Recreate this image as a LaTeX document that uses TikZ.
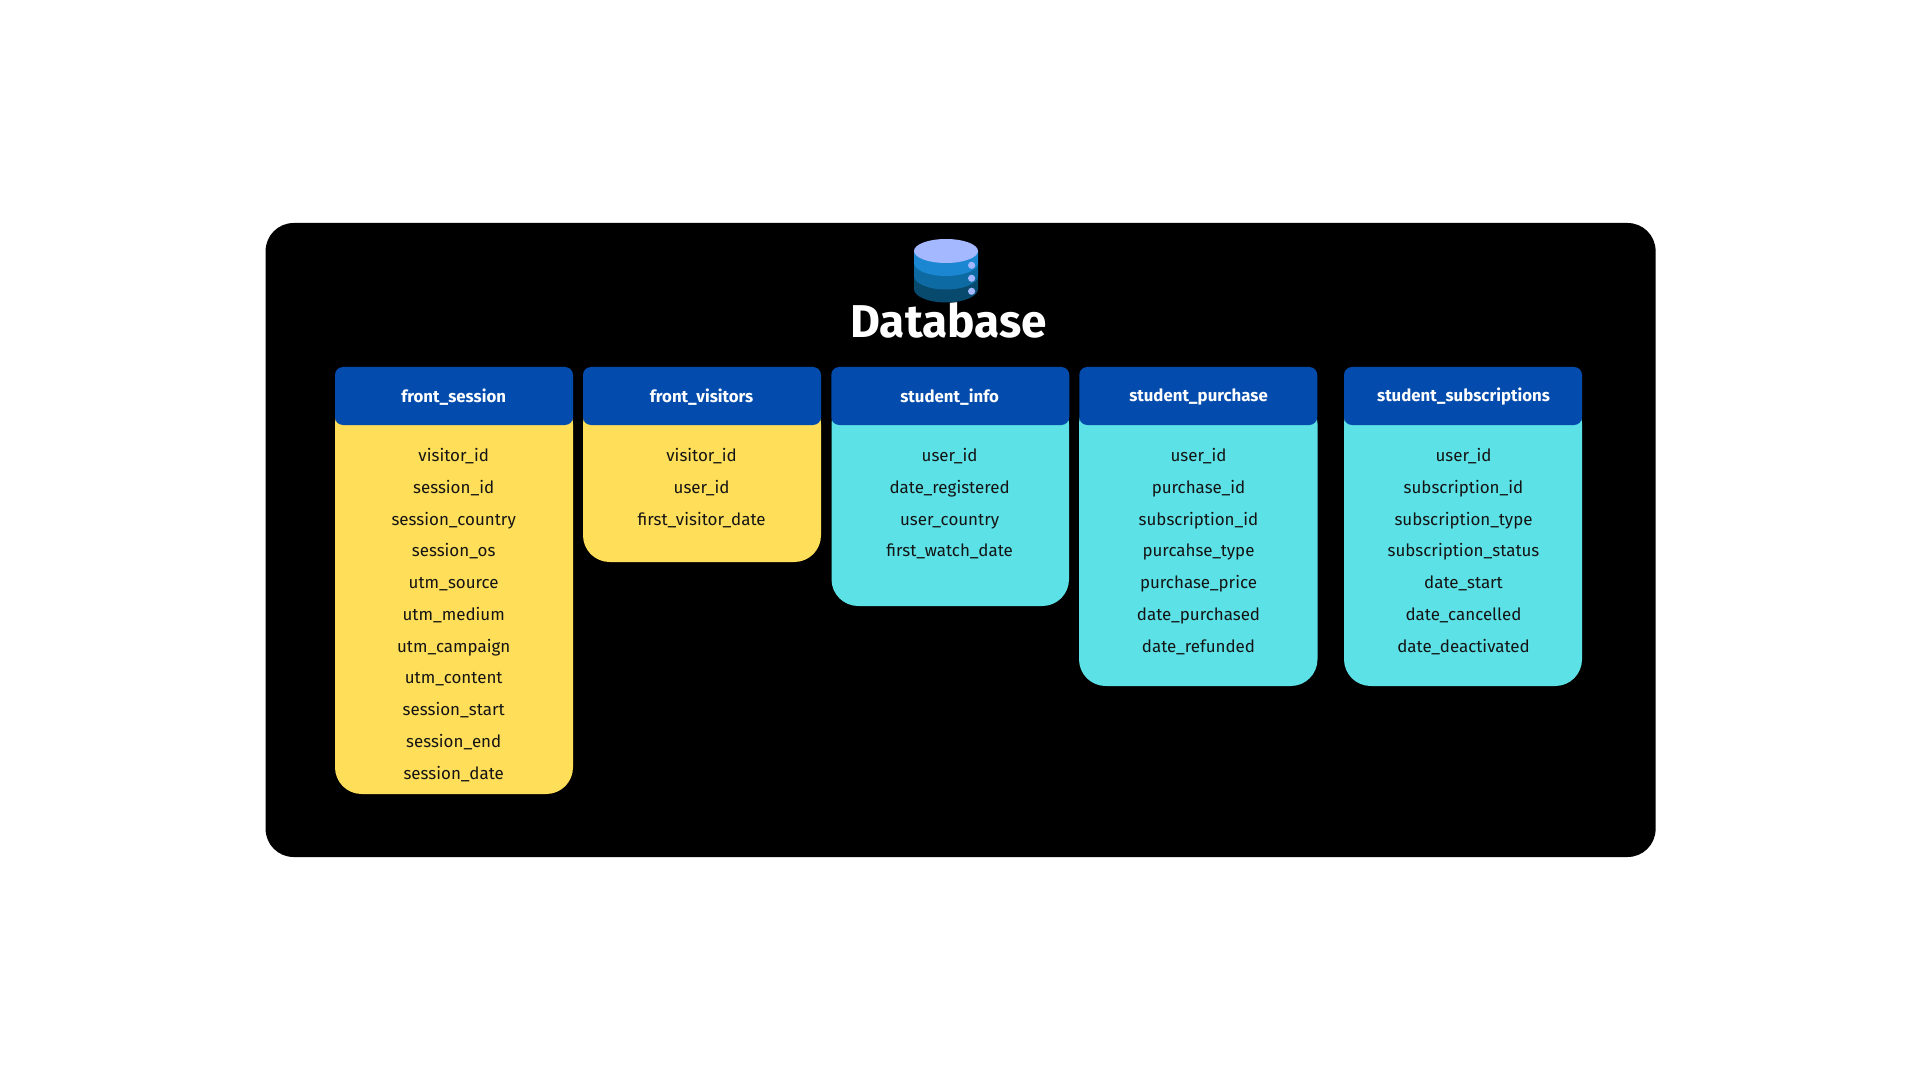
\documentclass[tikz,border=0pt]{standalone}
\usepackage{fontspec}
\setmainfont{Fira Sans}
\definecolor{hdr}{HTML}{034BAC}
\definecolor{yel}{HTML}{FFDE59}
\definecolor{cya}{HTML}{5CE1E6}
\definecolor{dbtop}{HTML}{A3B8FF}
\definecolor{dba}{HTML}{1B87D3}
\definecolor{dbb}{HTML}{0E6AA3}
\definecolor{dbc}{HTML}{074A6E}
\tikzset{
 x=0.75pt,y=-0.75pt,
 hdrbox/.style={fill=hdr,rounded corners=6pt,draw=none,inner sep=0pt,minimum width=178.5pt,minimum height=43.5pt,text=white,font=\fontsize{12.6}{14}\selectfont\bfseries,anchor=center},
 rowtxt/.style={inner sep=0pt,text=black!92,font=\fontsize{12.7}{15}\selectfont,anchor=base},
 dot/.style={fill=dbtop,draw=none},
}
% card: #1 name, #2 left, #3 right, #4 bottom, #5 colour, #6 text centre, #7 title, #8 rows
\newcommand{\mkcard}[8]{%
 \fill[#5,rounded corners=20pt] (#2,367+30) -- (#2,#4) -- (#3,#4) -- (#3,367+30) -- cycle;
 \node[hdrbox] (#1) at ({(#2+#3)/2},396) {};
 \node[hdrbox,fill=none] (#1t) at (#6,397) {#7};
 \foreach \t [count=\i from 0] in {#8} {
  \node[rowtxt] (#1r\i) at (#6,{461.5+31.75*\i}) {\t};
 }
}
\begin{document}
\begin{tikzpicture}
\useasboundingbox (0,0) rectangle (1920,1080);
\fill[white] (0,0) rectangle (1920,1080);
\node[fill=black,rounded corners=21pt,minimum width=1042.5pt,minimum height=475.5pt,inner sep=0pt] (panel) at (960.6,540) {};
% icon
\fill[dbc] (914,277) -- (914,289) arc[start angle=180,end angle=360,x radius=32,y radius=-13.5] -- (978,277) -- cycle;
\fill[dbb] (914,264) -- (914,276) arc[start angle=180,end angle=360,x radius=32,y radius=-13.5] -- (978,264) -- cycle;
\fill[dba] (914,251) -- (914,263) arc[start angle=180,end angle=360,x radius=32,y radius=-13] -- (978,251) -- cycle;
\fill[dbtop] (946,251) ellipse[x radius=32,y radius=12];
\fill[dot] (971.6,265.3) circle[radius=3.6];
\fill[dot] (971.6,278.3) circle[radius=3.6];
\fill[dot] (971.6,291.3) circle[radius=3.6];
\node[inner sep=0pt,anchor=base,text=white,font=\fontsize{34.5}{36}\selectfont\bfseries] (title) at (948.5,337.2) {Database};
\mkcard{c1}{335}{573}{794}{yel}{453.7}{front\_session}{visitor\_id,session\_id,session\_country,session\_os,utm\_source,utm\_medium,utm\_campaign,utm\_content,session\_start,session\_end,session\_date}
\mkcard{c2}{583}{821}{562}{yel}{701.6}{front\_visitors}{visitor\_id,user\_id,first\_visitor\_date}
\mkcard{c3}{831.5}{1069}{606}{cya}{949.6}{student\_info}{user\_id,date\_registered,user\_country,first\_watch\_date}
\mkcard{c4}{1079}{1317.5}{686}{cya}{1198.5}{student\_purchase}{user\_id,purchase\_id,subscription\_id,purcahse\_type,purchase\_price,date\_purchased,date\_refunded}
\mkcard{c5}{1344}{1582}{686}{cya}{1463.5}{student\_subscriptions}{user\_id,subscription\_id,subscription\_type,subscription\_status,date\_start,date\_cancelled,date\_deactivated}
\end{tikzpicture}
\end{document}
